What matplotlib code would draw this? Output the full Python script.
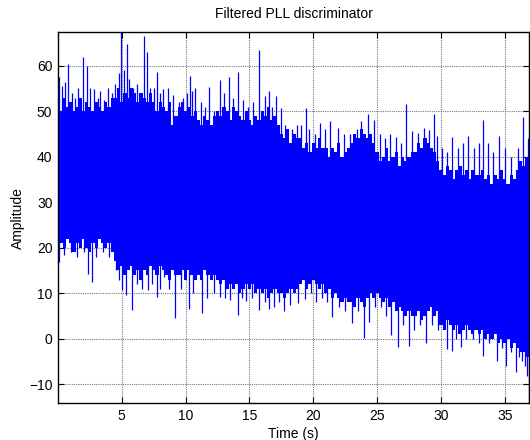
import numpy as np
import matplotlib
matplotlib.use("Agg")
import matplotlib.pyplot as plt

plt.rcParams['font.family'] = ['Liberation Sans', 'DejaVu Sans']

# envelope sample times (s): every 0.25 s, plus the final sample
env_t = [i * 0.25 for i in range(148)] + [36.9]
# upper / lower envelope of the dense noise band
upper_env = [57, 50, 53, 51, 52, 50, 51, 53, 50, 52, 51, 50, 52, 51, 50, 52, 51, 53,
             53, 55, 52, 54, 53, 55, 54, 52, 54, 53, 52, 54,
             52, 50, 52, 51, 50, 52, 47, 49,
             51, 52, 50, 51, 49, 50,
             48, 47, 49, 48, 47, 49,
             50, 49, 51, 50, 48, 51, 50, 49, 48, 50,
             48, 47, 49, 48, 50, 49, 51, 48, 49, 47,
             45, 44, 46, 43, 45, 44,
             44, 42, 43, 41, 43, 42, 44, 42,
             42, 40, 42, 41, 43, 40, 41, 42,
             43, 45, 44, 46, 45, 44, 45, 43,
             41, 39, 40, 42, 39, 40, 41, 38, 40, 39,
             40, 41,
             41, 43, 42, 44, 43, 42, 41, 39,
             37, 36, 38, 37, 35, 37, 38, 36, 37, 35, 37, 36,
             36, 37, 35, 36, 34, 36, 35, 37, 35, 34, 36, 35,
             37, 39, 38, 40, 40]
lower_env = [18, 21, 20, 22, 21, 19, 21, 20, 22, 20, 19, 21, 20, 22, 21, 20, 21, 19,
             17, 15, 16, 14, 15, 16, 14, 15, 13, 15, 14, 16,
             15, 14, 16, 15, 14, 13, 15, 14,
             14, 15, 13, 15, 14, 13,
             14, 13, 15, 14, 13, 14,
             13, 12, 13, 11, 12, 11, 12, 10, 11, 12,
             11, 12, 10, 11, 10, 11, 9, 10, 11, 10,
             10, 9, 10, 11, 10, 11,
             12, 13, 11, 12, 13, 12, 11, 12,
             10, 11, 9, 10, 9, 8, 9, 8,
             8, 7, 9, 8, 7, 9, 10, 9,
             10, 9, 8, 9, 7, 8, 6, 7, 6, 5,
             6, 5,
             5, 6, 4, 5, 6, 7, 5, 6,
             3, 2, 4, 3, 2, 3, 1, 2, 3, 2, 1, 2,
             1, 2, 0, 1, 0, 1, -1, 0, -1, 0, -2, -1,
             -2, -3, -3, -4, -4]

# upward spikes (time, amplitude)
up_t = [0.05, 0.3, 0.53, 0.81, 1.1, 1.3, 1.6, 1.93, 2.25, 2.5, 2.82, 3.1, 3.3, 3.6, 3.89, 4.2, 4.5,
        4.75, 4.96, 5.15, 5.38, 5.6, 5.9, 6.2, 6.5, 6.74, 6.95, 7.2, 7.5, 7.73, 8.0, 8.25, 8.6,
        8.98, 9.5, 9.8, 10.1, 10.34, 10.49, 10.75, 11.2, 11.5, 11.85, 12.2, 12.71, 13.0, 13.36,
        13.7, 14.07, 14.49, 14.9, 15.3, 15.77, 16.18, 16.52, 16.8, 17.07, 17.46, 17.8, 18.3,
        18.7, 19.0, 19.42, 19.7, 20.1, 20.54, 20.9, 21.33, 21.95, 22.4, 22.9, 23.4, 23.73, 24.3,
        24.77, 25.2, 25.6, 26.0, 26.47, 26.9, 27.25, 27.72, 28.24, 28.7, 29.07, 29.47, 29.68,
        30.1, 30.5, 30.85, 31.3, 31.7, 32.13, 32.6, 33.0, 33.26, 33.7, 34.1, 34.56, 35.0, 35.5,
        36.0, 36.46, 36.8]
up_v = [57.5, 55.5, 56.4, 60.3, 54, 53, 55, 61.9, 60.0, 55, 54.8, 53, 54.5, 52.5, 55.1, 54, 56,
        58.3, 67.4, 59, 64.8, 57, 55, 56, 54, 66.5, 63.0, 55, 55, 58.6, 54, 54.8, 55,
        53.5, 52, 53, 54, 57.7, 54.5, 55.1, 52, 51, 55.3, 50, 56.9, 54, 57.5,
        53, 58.6, 52.4, 51, 52, 63.5, 53.4, 54.5, 51, 53.3, 50.6, 47, 46,
        46.9, 47, 50.8, 46, 45, 47.4, 46, 47.8, 46.3, 45, 45, 46, 47.8, 49.3,
        48, 45, 44, 45, 44.4, 43, 51.5, 45.6, 45.1, 46.2, 45.8, 49.3, 44.5,
        42, 41, 44.4, 42, 43, 44.6, 42, 43, 48.0, 43, 41, 44.6, 42, 40,
        42, 48.8, 44]

# downward spikes (time, amplitude)
dn_t = [0.05, 0.5, 1.0, 1.5, 2.0, 2.32, 2.66, 3.0, 3.5, 4.0, 4.54, 4.8, 5.01, 5.33, 5.8, 6.2,
        6.6, 7.03, 7.4, 7.73, 8.0, 8.33, 8.7, 9.19, 9.6, 10.23, 10.6, 11.28, 11.7, 12.2, 12.71,
        13.1, 13.5, 14.07, 14.4, 14.72, 15.2, 15.77, 16.2, 16.5, 16.9, 17.3, 17.7, 18.2, 18.78,
        19.33, 19.8, 20.2, 20.7, 21.1, 21.5, 22.0, 22.5, 23.0, 23.5, 24.0, 24.4, 24.8, 25.3,
        25.7, 26.1, 26.6, 27.0, 27.5, 27.9, 28.4, 28.82, 29.3, 29.8, 30.5, 30.9, 31.2, 31.56,
        32.0, 32.5, 33.0, 33.26, 33.8, 34.43, 34.8, 35.13, 35.5, 35.86, 36.1, 36.33, 36.55,
        36.72, 36.88]
dn_v = [16.9, 18.5, 19, 18, 19, 14.3, 12.5, 18, 19, 18, 15.2, 13, 10.6, 9.6, 6.4, 12,
        11, 10.8, 12, 9.1, 11, 13.5, 11, 4.5, 11, 6.6, 10, 5.7, 9, 10, 9.2,
        9, 8.5, 5.2, 9, 8.3, 9, 6.4, 8, 6.6, 7, 8, 6.1, 7.4, 7.9,
        8.8, 10, 8.1, 9, 8, 4.8, 7, 6, 3.4, 6, 0.2, 3.7, 7, 7,
        5, 0.9, -1.8, 3, -1.5, 2, 3, -1.0, 3, 2, -2.3, -2.6, 0, -1.9,
        0, 0, -1, -3.8, -1, -4.8, -2, -6.1, -3, -7.4, -4, -4.8, -6,
        -8.3, -14.2]

x_ticks = [5, 10, 15, 20, 25, 30, 35]
y_ticks = [-10, 0, 10, 20, 30, 40, 50, 60]
t_end = 36.9

blue = '#0000ff'
fig = plt.figure(figsize=(5.3, 4.4), dpi=100)
ax = fig.add_axes([0.1094, 0.0834, 0.8887, 0.8439])

ax.fill_between(env_t, lower_env, upper_env, step='mid', color=blue, lw=0, zorder=3)
ax.vlines(up_t, 30, up_v, color=blue, lw=0.9, zorder=3)
ax.vlines(dn_t, 30, dn_v, color=blue, lw=0.9, zorder=3)

ax.set_xlim(0, t_end)
ax.set_ylim(-14.2, 67.4)
ax.set_xticks(x_ticks)
ax.set_yticks(y_ticks)
ax.grid(True, color='#777777', linestyle=(0, (1, 1)), linewidth=0.8, zorder=1)
ax.set_axisbelow(True)
ax.tick_params(direction='in', top=True, right=True, labelsize=10, length=4, width=0.8, pad=4)
for s in ax.spines.values():
    s.set_linewidth(1.0)
    s.set_zorder(5)

ax.set_title('Filtered PLL discriminator', fontsize=10, pad=10)
ax.set_xlabel('Time (s)', fontsize=10, labelpad=3)
ax.set_ylabel('Amplitude', fontsize=10, labelpad=3)

fig.savefig('out.png', dpi=100)
